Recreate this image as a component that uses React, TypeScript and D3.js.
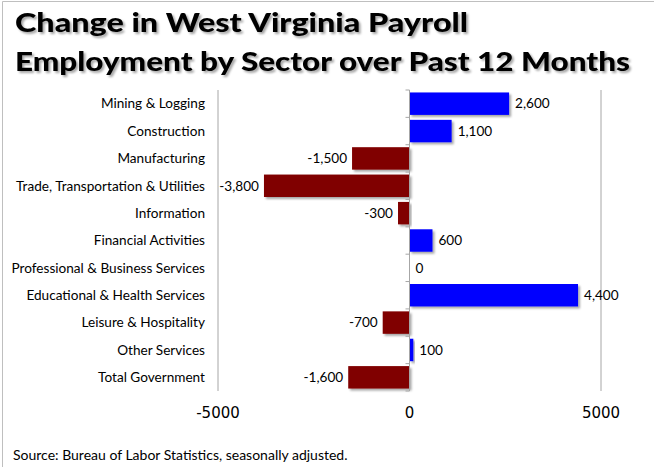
import React from "react";
import * as d3 from "d3";

const categories = [
  "Mining & Logging",
  "Construction",
  "Manufacturing",
  "Trade, Transportation & Utilities",
  "Information",
  "Financial Activities",
  "Professional & Business Services",
  "Educational & Health Services",
  "Leisure & Hospitality",
  "Other Services",
  "Total Government",
];
const values = [2600, 1100, -1500, -3800, -300, 600, 0, 4400, -700, 100, -1600];
const xTicks = [-5000, 0, 5000];
const titleLines = [
  "Change in West Virginia Payroll",
  "Employment by Sector over Past 12 Months",
];
const sourceText = "Source: Bureau of Labor Statistics, seasonally adjusted.";

const W = 654;
const H = 467;
const FONT = "Lato, 'Open Sans', sans-serif";

export default function App() {
  const x = d3.scaleLinear().domain([-5000, 5000]).range([218, 601]);
  const y = d3
    .scaleBand<string>()
    .domain(categories)
    .range([90, 391])
    .paddingInner(0.18)
    .paddingOuter(0.09);
  const step = y.step();
  const locale = d3.formatLocale({
    decimal: ".",
    thousands: ",",
    grouping: [3],
    currency: ["$", ""],
    minus: "-",
  });
  const fmt = locale.format(",");
  const x0 = x(0);

  return (
    <svg
      width={W}
      height={H}
      style={{ position: "absolute", left: 0, top: 0, background: "#fff" }}
      fontFamily={FONT}
    >
      <defs>
        <filter id="barShadow" x="-10%" y="-20%" width="130%" height="160%">
          <feDropShadow dx="2" dy="2" stdDeviation="1.2" floodColor="#000" floodOpacity="0.35" />
        </filter>
        <filter id="titleShadow" x="-5%" y="-20%" width="110%" height="160%">
          <feDropShadow dx="2" dy="2" stdDeviation="1.2" floodColor="#000" floodOpacity="0.35" />
        </filter>
      </defs>
      <rect x={0} y={0} width={W} height={H} fill="#fff" />
      <line x1={2.5} y1={1.5} x2={W} y2={1.5} stroke="#bfbfbf" strokeWidth={1} />
      <line x1={2.5} y1={1.5} x2={2.5} y2={H} stroke="#bfbfbf" strokeWidth={1} />

      <g filter="url(#titleShadow)">
        <text
          x={15}
          y={32}
          fontSize={27}
          fontWeight={900}
          fill="#000"
          textLength={453}
          lengthAdjust="spacingAndGlyphs"
        >
          {titleLines[0]}
        </text>
        <text
          x={15}
          y={71}
          fontSize={27}
          fontWeight={900}
          fill="#000"
          textLength={615}
          lengthAdjust="spacingAndGlyphs"
        >
          {titleLines[1]}
        </text>
      </g>

      {/* gridlines */}
      {xTicks
        .filter((t) => t !== 0)
        .map((t) => (
          <line
            key={"g" + t}
            x1={x(t)}
            x2={x(t)}
            y1={90}
            y2={391}
            stroke="#a6a6a6"
            strokeWidth={1}
          />
        ))}

      {/* bars */}
      {categories.map((c, i) => {
        const v = values[i];
        const y0 = y(c)!;
        const bx = Math.min(x(v), x0);
        const bw = Math.abs(x(v) - x0);
        if (bw === 0) return null;
        return (
          <rect
            key={c}
            x={bx}
            y={y0}
            width={bw}
            height={y.bandwidth()}
            fill={v >= 0 ? "#0000ff" : "#800000"}
            filter="url(#barShadow)"
          />
        );
      })}

      {/* zero axis */}
      <line x1={x0} x2={x0} y1={90} y2={391} stroke="#a6a6a6" strokeWidth={1} />
      {d3.range(categories.length + 1).map((i) => (
        <line
          key={"t" + i}
          x1={x0 - 4}
          x2={x0}
          y1={90 + i * step}
          y2={90 + i * step}
          stroke="#a6a6a6"
          strokeWidth={1}
        />
      ))}

      {/* category labels */}
      {categories.map((c) => (
        <text
          key={"l" + c}
          x={205}
          y={y(c)! + y.bandwidth() / 2}
          dy="0.35em"
          textAnchor="end"
          fontSize={13.6}
          fill="#000"
        >
          {c}
        </text>
      ))}

      {/* value labels */}
      {categories.map((c, i) => {
        const v = values[i];
        const pos = v >= 0;
        return (
          <text
            key={"v" + c}
            x={pos ? x(v) + 6 : x(v) - 5}
            y={y(c)! + y.bandwidth() / 2}
            dy="0.35em"
            textAnchor={pos ? "start" : "end"}
            fontSize={13.6}
            fill="#000"
          >
            {fmt(v)}
          </text>
        );
      })}

      {/* x tick labels */}
      {xTicks.map((t) => (
        <text
          key={"x" + t}
          x={x(t)}
          y={418}
          textAnchor="middle"
          fontSize={15}
          fontFamily="'DejaVu Sans', sans-serif"
          fill="#000"
        >
          {t}
        </text>
      ))}

      <text x={13} y={460} fontSize={14} fill="#000">
        {sourceText}
      </text>
    </svg>
  );
}
